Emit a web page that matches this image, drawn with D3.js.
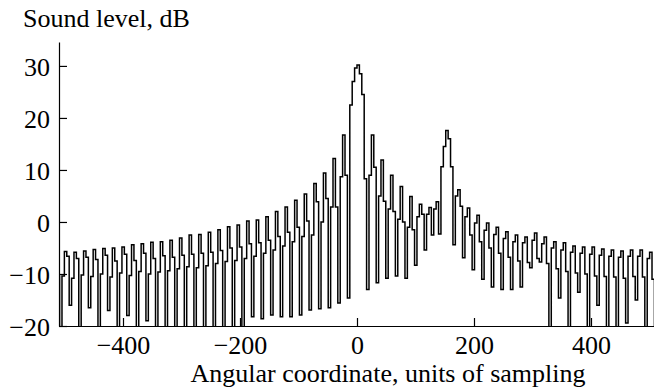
<!DOCTYPE html>
<html>
<head>
<meta charset="utf-8">
<script src="https://cdn.jsdelivr.net/npm/d3@7"></script>
<style>
  html, body { margin: 0; padding: 0; background: #fff; }
  svg text { font-family: "Liberation Serif", "Times New Roman", serif; fill: #000; }
</style>
</head>
<body>
<svg id="chart" width="654" height="391"></svg>
<script>
// Sampled beam pattern: one level (dB) per sampling step, starting at xStart.
const xStart = -512.5;
const xStep = 4.1;
const level = [
  -10.4,
  // left sidelobes: null, rise, peak, fall
  -25, -10.4, -5.7, -6.6,
  -16, -10.8, -5.8, -7.0,
  -25, -10.2, -5.6, -6.8,
  -16.5, -10.5, -5.3, -7.2,
  -25, -10.0, -5.1, -6.4,
  -17, -10.6, -5.0, -7.5,
  -25, -9.8, -4.8, -6.2,
  -18, -10.3, -4.4, -7.4,
  -25, -9.5, -4.2, -6.0,
  -19, -10.0, -3.9, -7.0,
  -25, -9.6, -3.8, -6.5,
  -25, -9.4, -3.5, -6.8,
  -25, -9.0, -3.1, -6.4,
  -25, -8.6, -2.5, -6.2,
  -25, -8.8, -2.4, -6.0,
  -25, -8.4, -2.0, -5.8,
  -25, -8.0, -1.5, -5.5,
  -25, -7.6, -0.9, -5.0,
  -25, -7.4, -0.6, -4.8,
  -25, -7.0, 0.2, -4.2,
  -18.2, -6.6, 0.4, -4.0,
  -18.6, -6.0, 1.0, -3.5,
  -17.9, -5.4, 2.0, -2.8,
  -18.2, -4.6, 2.9, -2.0,
  -18.2, -3.8, 4.2, -1.0,
  -17.9, -2.8, 5.4, 0.2,
  -16.9, -2.5, 7.4, 3.9,
  -16.7, 0.0, 9.4, 4.5,
  -16.5, 2.9, 12.2, 2.9,
  -15.6, 8.7, 16.7, 9.0,
  // main lobe
  -14.6, 22.5, 27.0, 29.6, 30.2, 28.5, 24.5, 8.3,
  // between the two sources
  -13.0, 9.0, 16.7, 10.5,
  -11.7, 5.0, 11.9, 4.0,
  -10.8, 2.5, 9.0, 2.0,
  -10.4, 0.5, 6.8, 0.0,
  -10.8, -1.0, 4.9, -1.5,
  -8.3, 1.0, 3.4, 1.5,
  -5.4, 1.5, 2.8,
  -2.5, 2.5, 3.9,
  // second source
  -2.3, 10.6, 14.5, 17.6, 16.0, 10.6,
  -4.4, 5.0, 6.2, 3.0,
  // right sidelobes: null, rise, peak, fall
  -6.9, 1.0, 2.7, -2.5,
  -9.2, -0.2, 1.3, -3.8,
  -11.0, -1.6, -0.2, -5.0,
  -12.5, -2.4, -1.0, -6.0,
  -13.0, -3.2, -1.9, -6.8,
  -13.0, -3.8, -2.5, -7.5,
  -12.5, -4.0, -2.9, -7.8,
  -8.8, -3.5, -2.1, -7.0,
  -7.7, -4.2, -2.9, -8.0,
  -25, -5.0, -3.8, -9.0,
  -14.6, -5.4, -4.0, -9.5,
  -25, -5.8, -4.6, -9.8,
  -13.5, -6.0, -4.8, -10.0,
  -25, -6.2, -4.8, -10.4,
  -16, -6.4, -5.2, -10.5,
  -25, -6.6, -5.4, -10.6,
  -25, -6.8, -5.6, -10.8,
  -19.4, -6.6, -5.4, -10.5,
  -15, -6.6, -5.4, -10.6,
  -25, -7.0, -5.8, -11.0,
  -25
];

const xDomain = [-509.4, 507.7];
const yDomain = [-20, 34.6];
const xTicks = [-400, -200, 0, 200, 400];
const yTicks = [-20, -10, 0, 10, 20, 30];
const yTitle = "Sound level, dB";
const xTitle = "Angular coordinate, units of sampling";

const plot = { left: 59, right: 654, top: 42, bottom: 326 };
const fontSize = 26;

const svg = d3.select("#chart");

const x = d3.scaleLinear().domain(xDomain).range([plot.left, plot.right]);
const y = d3.scaleLinear().domain(yDomain).range([plot.bottom, plot.top]);

svg.append("defs").append("clipPath").attr("id", "plot-clip")
  .append("rect")
  .attr("x", plot.left).attr("y", plot.top)
  .attr("width", plot.right - plot.left)
  .attr("height", plot.bottom - plot.top);

// pattern trace, drawn as a step curve through the samples
const line = d3.line()
  .x((d, i) => x(xStart + i * xStep))
  .y(d => y(d))
  .curve(d3.curveStepAfter);

svg.append("path")
  .datum(level)
  .attr("clip-path", "url(#plot-clip)")
  .attr("fill", "none")
  .attr("stroke", "#000")
  .attr("stroke-width", 1.5)
  .attr("stroke-linejoin", "miter")
  .attr("d", line);

// axes with inward ticks
const yAxis = svg.append("g")
  .attr("transform", `translate(${plot.left},0)`)
  .call(d3.axisLeft(y).tickValues(yTicks).tickSizeInner(-8).tickSizeOuter(0).tickPadding(9));

const xAxis = svg.append("g")
  .attr("transform", `translate(0,${plot.bottom})`)
  .call(d3.axisBottom(x).tickValues(xTicks).tickSizeInner(-8).tickSizeOuter(0).tickPadding(10));

[yAxis, xAxis].forEach(g => {
  g.selectAll(".domain").attr("stroke", "#000").attr("stroke-width", 1.2);
  g.selectAll(".tick line").attr("stroke", "#000").attr("stroke-width", 1.2);
  g.selectAll(".tick text")
    .attr("font-family", "Liberation Serif, Times New Roman, serif")
    .attr("font-size", fontSize)
    .attr("fill", "#000");
});
yAxis.selectAll(".tick text").attr("dy", "0.38em");

svg.append("text")
  .attr("x", 23).attr("y", 27)
  .attr("font-size", fontSize)
  .text(yTitle);

svg.append("text")
  .attr("x", 388).attr("y", 382)
  .attr("text-anchor", "middle")
  .attr("font-size", fontSize)
  .text(xTitle);
</script>
</body>
</html>
